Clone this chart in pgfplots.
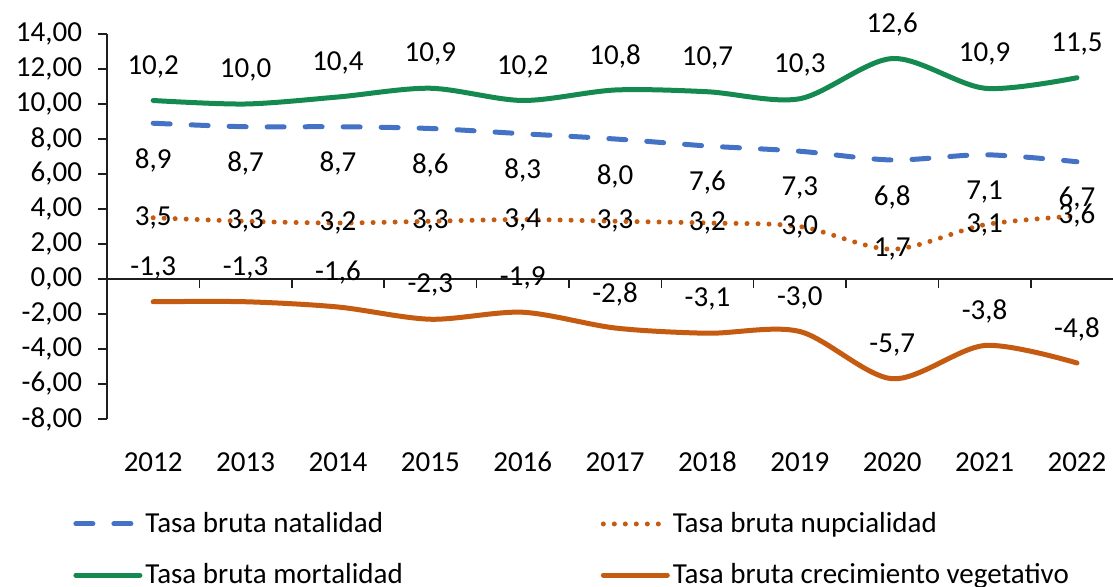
\documentclass[border=0pt]{standalone}
\usepackage{fontspec}
\setmainfont{Carlito}
\usepackage{pgfplots}
\usepackage{pgfplotstable}
\pgfplotsset{compat=1.18}

\definecolor{natal}{RGB}{68,114,196}
\definecolor{nupc}{RGB}{197,90,17}
\definecolor{mort}{RGB}{20,138,80}
\definecolor{crec}{RGB}{197,90,17}
\definecolor{axisc}{RGB}{30,30,30}

\newcommand{\lbl}{\fontsize{14.5}{17}\selectfont}

% tasas por 1000 habitantes, 2012-2022 (x = 0..10)
\pgfplotstableread{
x nat nup mor cre
0  8.9 3.5 10.2 -1.3
1  8.7 3.3 10.0 -1.3
2  8.7 3.2 10.4 -1.6
3  8.6 3.3 10.9 -2.3
4  8.3 3.4 10.2 -1.9
5  8.0 3.3 10.8 -2.8
6  7.6 3.2 10.7 -3.1
7  7.3 3.0 10.3 -3.0
8  6.8 1.7 12.6 -5.7
9  7.1 3.1 10.9 -3.8
10 6.7 3.6 11.5 -4.8
}\rates

\begin{document}
\begin{tikzpicture}
\begin{axis}[
  width=503pt, height=192.5pt, scale only axis,
  xmin=-0.5, xmax=10.39, ymin=-8, ymax=14,
  axis y line=left, axis x line=bottom,
  x axis line style={draw=none},
  y axis line style={-, line width=0.75pt, color=axisc},
  xtick={0,...,10},
  xticklabels={2012,2013,2014,2015,2016,2017,2018,2019,2020,2021,2022},
  x tick style={draw=none},
  ytick={-8,-6,...,14},
  y tick style={line width=0.75pt, color=axisc},
  tick align=outside, major tick length=4.5pt,
  tick label style={font=\lbl, text=black},
  yticklabel style={xshift=-4.5pt, /pgf/number format/.cd, fixed, fixed zerofill, precision=2, use comma, assume math mode=true},
  xticklabel style={anchor=center, yshift=-17pt},
  nodes near coords={\pgfmathprintnumber[fixed,fixed zerofill,precision=1,use comma,assume math mode=true]{\pgfplotspointmeta}},
  every node near coord/.append style={font=\lbl, text=black, inner sep=0pt},
  legend columns=2, legend cell align=left,
  legend style={at={(axis description cs:0,0)}, anchor=north west, xshift=-17pt, yshift=-45pt,
    draw=none, fill=none, font=\lbl, inner sep=0pt, row sep=11pt,
    /tikz/every even column/.append style={column sep=97.5pt}, nodes={inner sep=1.5pt}},
  legend image code/.code={\draw[#1] (0pt,0pt) -- (32pt,0pt);},
]
\draw[line width=0.75pt, axisc] ([xshift=-4.5pt]axis cs:-0.5,0) -- (axis cs:10.39,0);
\pgfplotsinvokeforeach{0.5,1.5,2.5,3.5,4.5,5.5,6.5,7.5,8.5,9.5}{
  \draw[line width=0.75pt, axisc] (axis cs:#1,0) -- ([yshift=-4.5pt]axis cs:#1,0);}

\addplot[natal, line width=2.5pt, line cap=round, dash pattern=on 8.5pt off 10.5pt, smooth,
  every node near coord/.append style={anchor=center, yshift=-18.5pt}]
  table[x=x, y=nat]{\rates};
\addlegendentry{Tasa bruta natalidad}
\addplot[nupc, line width=2.5pt, line cap=round, dash pattern=on 0pt off 5.5pt, smooth,
  every node near coord/.append style={anchor=center}]
  table[x=x, y=nup]{\rates};
\addlegendentry{Tasa bruta nupcialidad}
\addplot[mort, line width=2.5pt, line cap=round, smooth,
  every node near coord/.append style={anchor=center, yshift=17pt}]
  table[x=x, y=mor]{\rates};
\addlegendentry{Tasa bruta mortalidad}
\addplot[crec, line width=2.5pt, line cap=round, smooth,
  every node near coord/.append style={anchor=center, yshift=17pt}]
  table[x=x, y=cre]{\rates};
\addlegendentry{Tasa bruta crecimiento vegetativo}
\end{axis}
\pgfresetboundingbox
\path[use as bounding box] (-53.5pt,-84pt) rectangle (503pt,209.5pt);
\end{tikzpicture}
\end{document}
